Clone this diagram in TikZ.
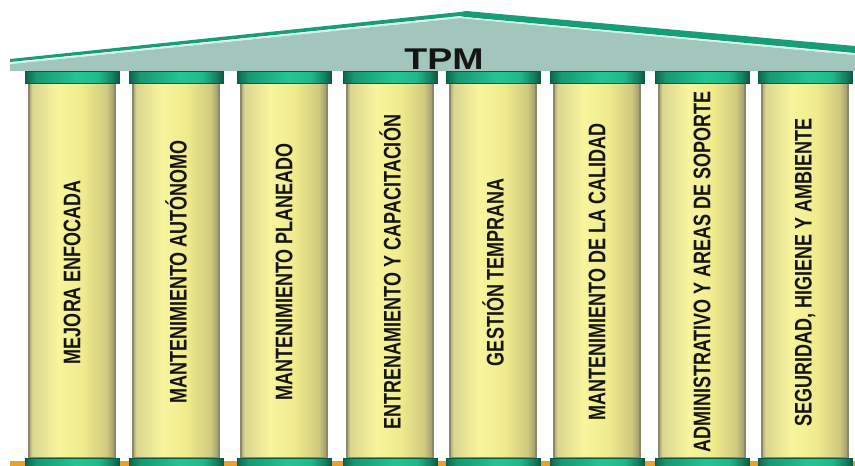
\documentclass[tikz,border=0pt]{standalone}
\usepackage{fontspec}
\setmainfont{Liberation Sans}
\newfontfamily\pillarfont[FakeStretch=0.75]{Liberation Sans}
\newfontfamily\titlefont[FakeStretch=1.25]{Liberation Sans}

\definecolor{roofgray}{HTML}{A2C6BC}
\definecolor{roofgreen}{HTML}{179E78}
\definecolor{roofhi}{HTML}{C8F4E6}
\definecolor{capedge}{HTML}{0B5A42}
\definecolor{shaftedge}{HTML}{8A8866}
\definecolor{ground}{HTML}{E8A030}
\definecolor{ink}{HTML}{151515}
% shaft gradient stops
\definecolor{shA}{HTML}{A8A67E}
\definecolor{shB}{HTML}{DAD690}
\definecolor{shC}{HTML}{F8F59E}
\definecolor{shD}{HTML}{F0EB8C}
\definecolor{shE}{HTML}{D0CA80}
\definecolor{shF}{HTML}{9A986E}
% capital gradient stops
\definecolor{cpA}{HTML}{0D654B}
\definecolor{cpB}{HTML}{189872}
\definecolor{cpC}{HTML}{22C493}
\definecolor{cpD}{HTML}{20BA8B}
\definecolor{cpE}{HTML}{148462}
\definecolor{cpF}{HTML}{0D5A43}

% column shaft: olive edges, pale yellow centre
\pgfdeclarehorizontalshading{shaftshade}{100bp}{%
  color(0bp)=(shA);
  color(25bp)=(shA);
  color(27bp)=(shB);
  color(42bp)=(shC);
  color(56bp)=(shD);
  color(70bp)=(shE);
  color(75bp)=(shF);
  color(100bp)=(shF)}
% green capital and base
\pgfdeclarehorizontalshading{capshade}{100bp}{%
  color(0bp)=(cpA);
  color(25bp)=(cpA);
  color(31bp)=(cpB);
  color(52bp)=(cpC);
  color(64bp)=(cpD);
  color(71bp)=(cpE);
  color(75bp)=(cpF);
  color(100bp)=(cpF)}

\tikzset{
  shaft/.style={shading=shaftshade, draw=shaftedge, line width=1.2pt},
  capital/.style={shading=capshade, draw=capedge, line width=0.8pt},
  pillarlabel/.style={rotate=90, text=ink, inner sep=0pt,
    font=\pillarfont\bfseries\fontsize{24}{24}\selectfont},
}

\begin{document}
\begin{tikzpicture}[x=1pt, y=-1pt]
\useasboundingbox (0,0) rectangle (855,466);
\fill[white] (0,0) rectangle (855,466);

% ground strip
\fill[ground] (10,461) rectangle (855,466);

% roof
\fill[roofgray] (10,64) -- (460,18) -- (855,55) -- (855,71) -- (10,71) -- cycle;
\fill[roofgreen] (10,59) -- (460,12) -- (466,11) -- (855,46) -- (855,53)
  -- (465,17) -- (460,16) -- (10,62) -- cycle;
\draw[roofhi, line width=1.2pt] (10,63.5) -- (460,17.5) -- (855,54.5);
\node[font=\titlefont\bfseries\fontsize{30}{30}\selectfont, text=ink,
  anchor=base, inner sep=0pt] (tpm) at (444,69) {TPM};

% columns
\foreach \i/\x/\txt in {
  1/25/{MEJORA ENFOCADA},
  2/129/{MANTENIMIENTO AUTÓNOMO},
  3/237/{MANTENIMIENTO PLANEADO},
  4/343/{ENTRENAMIENTO Y CAPACITACIÓN},
  5/446/{GESTIÓN TEMPRANA},
  6/550/{MANTENIMIENTO DE LA CALIDAD},
  7/655/{ADMINISTRATIVO  Y AREAS DE SOPORTE},
  8/758/{SEGURIDAD, HIGIENE Y AMBIENTE}} {
  \path[shaft] (\x+4,83) rectangle (\x+90,458);
  \path[capital] (\x,71.5) rectangle (\x+94,83);
  \path[capital] (\x,458) rectangle (\x+94,470);
  \node[pillarlabel] (p\i) at (\x+47,272) {\txt};
}
\end{tikzpicture}
\end{document}
